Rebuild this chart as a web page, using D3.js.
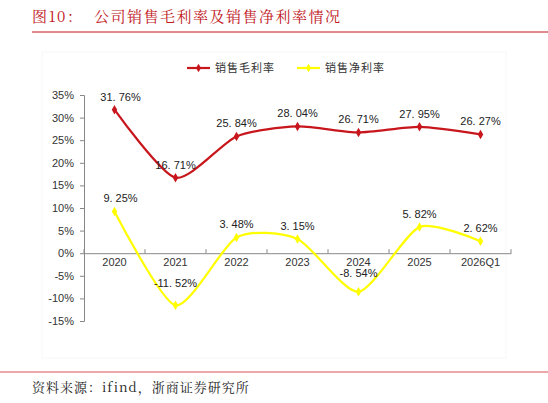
<!DOCTYPE html>
<html><head><meta charset="utf-8">
<script src="https://cdn.jsdelivr.net/npm/d3@7"></script>
<style>body{margin:0;background:#fff}svg{display:block}</style>
</head><body><div id="chart"></div>
<script>
const categories = ['2020', '2021', '2022', '2023', '2024', '2025', '2026Q1'];
const grossMargin = [31.76, 16.71, 25.84, 28.04, 26.71, 27.95, 26.27];
const netMargin = [9.25, -11.52, 3.48, 3.15, -8.54, 5.82, 2.62];
const yTicks = [35, 30, 25, 20, 15, 10, 5, 0, -5, -10, -15];

const W = 548, H = 403;
const svg = d3.select('#chart').append('svg').attr('width', W).attr('height', H);
const cjk = '"Noto Sans CJK SC", sans-serif';
const serif = '"Noto Serif CJK SC", "Noto Sans CJK SC", serif';

svg.append('text').attr('x', 32).attr('y', 22).attr('fill', '#c0161c')
    .attr('font-size', 15).attr('font-family', serif).attr('letter-spacing', 1.5)
    .attr('xml:space', 'preserve').text('图10：  公司销售毛利率及销售净利率情况');
svg.append('line').attr('x1', 32).attr('x2', W).attr('y1', 32).attr('y2', 32)
    .attr('stroke', '#c0161c').attr('stroke-width', 1);
svg.append('rect').attr('x', 42).attr('y', 52).attr('width', 464).attr('height', 306)
    .attr('fill', 'none').attr('stroke', '#f7f7f7');
svg.append('line').attr('x1', 0).attr('x2', W).attr('y1', 372).attr('y2', 372)
    .attr('stroke', '#d9534f').attr('stroke-width', 1);
svg.append('text').attr('x', 32).attr('y', 392).attr('fill', '#222')
    .attr('font-size', 13).attr('font-family', serif).attr('letter-spacing', 1)
    .text('资料来源：ifind，浙商证券研究所');

const x = d3.scaleBand().domain(categories).range([84, 511]);
const y = d3.scaleLinear().domain([-15, 35]).range([321, 95]);
const cx = (d) => x(d) + x.bandwidth() / 2;

const yAxis = svg.append('g').attr('transform', 'translate(84,0)')
    .call(d3.axisLeft(y).tickValues(yTicks).tickFormat((d) => d + '%').tickSize(4));
yAxis.select('.domain').attr('stroke', '#888');
yAxis.selectAll('.tick line').attr('stroke', '#888');
yAxis.selectAll('text').attr('font-size', 11).attr('font-family', 'Arial').attr('fill', '#333').attr('x', -10);

const xAxis = svg.append('g').attr('transform', `translate(0,${y(0)})`)
    .call(d3.axisBottom(x).tickSize(0));
xAxis.select('.domain').attr('stroke', '#888');
xAxis.selectAll('text').attr('font-size', 11).attr('font-family', 'Arial').attr('fill', '#333').attr('dy', 10);
categories.concat(['end']).forEach((c, i) => {
    const px = 84 + i * x.bandwidth();
    svg.append('line').attr('x1', px).attr('x2', px).attr('y1', y(0)).attr('y2', y(0) - 4).attr('stroke', '#888');
});

const series = [
    { name: '销售毛利率', values: grossMargin, color: '#c8161d' },
    { name: '销售净利率', values: netMargin, color: '#ffff00' }
];
const line = d3.line().x((d, i) => cx(categories[i])).y((d) => y(d)).curve(d3.curveCardinal.tension(0.3));

series.forEach((s) => {
    svg.append('path').attr('d', line(s.values)).attr('fill', 'none')
        .attr('stroke', s.color).attr('stroke-width', 2.2);
    svg.selectAll(null).data(s.values).enter().append('path')
        .attr('d', d3.symbol(d3.symbolDiamond, 26))
        .attr('transform', (d, i) => `translate(${cx(categories[i])},${y(d)})`)
        .attr('fill', s.color);
    svg.selectAll(null).data(s.values).enter().append('text')
        .attr('x', (d, i) => cx(categories[i]) + (i === 0 ? 6 : 0))
        .attr('y', (d, i) => y(d) - 9 + (s.values === netMargin && d < 0 ? (i === 1 ? -9 : -6) : 0))
        .attr('text-anchor', 'middle').attr('font-size', 11).attr('font-family', 'Arial').attr('fill', '#222')
        .text((d) => d.toFixed(2).replace('.', '. ') + '%');
});

const legend = [[187, series[0]], [297, series[1]]];
legend.forEach(([lx, s]) => {
    svg.append('line').attr('x1', lx).attr('x2', lx + 23).attr('y1', 68).attr('y2', 68)
        .attr('stroke', s.color).attr('stroke-width', 2.2);
    svg.append('path').attr('d', d3.symbol(d3.symbolDiamond, 22)).attr('transform', `translate(${lx + 11.5},68)`).attr('fill', s.color);
    svg.append('text').attr('x', lx + 28).attr('y', 72).attr('font-size', 11).attr('font-family', cjk)
        .attr('letter-spacing', 1).attr('fill', '#333').text(s.name);
});
</script></body></html>
